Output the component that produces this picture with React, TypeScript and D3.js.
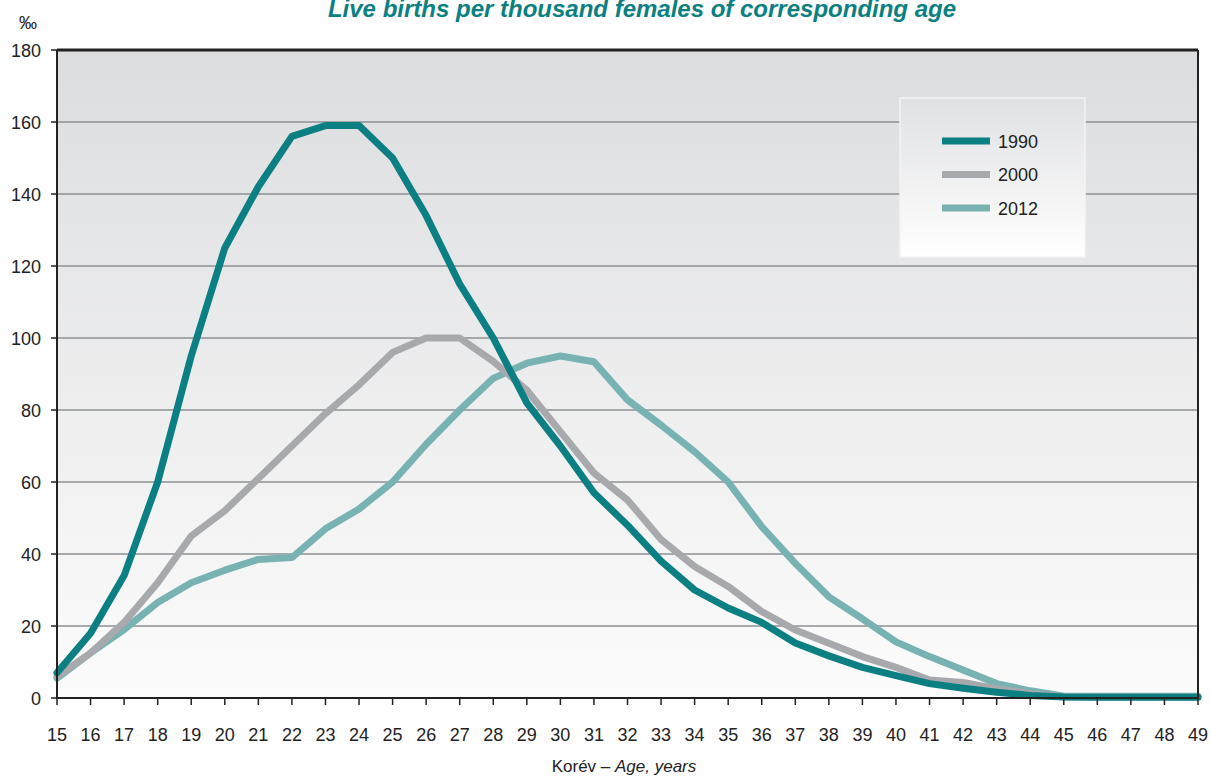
import React from "react";
import * as d3 from "d3";

// age groups (x axis)
const ages = d3.range(15, 50);
const yTicks = [0, 20, 40, 60, 80, 100, 120, 140, 160, 180];

// live births per thousand females
const births1990 = [7, 18, 34, 60, 95, 125, 142, 156, 159, 159, 150, 134, 115, 100, 82, 70, 57, 48, 38, 30, 25, 21, 15.3, 11.7, 8.5, 6.2, 4, 2.7, 1.6, 0.7, 0.3, 0.2, 0.2, 0.2, 0.2];
const births2000 = [6, 12.5, 21, 32, 45, 52, 61, 70, 79, 87, 96, 100, 100, 93.5, 85.5, 74, 62.5, 55, 44, 36.5, 31, 24, 18.9, 15.2, 11.5, 8.5, 5, 4.3, 2.6, 1.2, 0.3, 0.3, 0.3, 0.3, 0.3];
const births2012 = [5.5, 12.5, 19, 26.5, 32, 35.5, 38.5, 39, 47, 52.5, 60, 70.5, 80, 88.8, 93, 95, 93.4, 82.8, 75.8, 68.4, 60, 47.6, 37.4, 28.1, 22, 15.6, 11.5, 7.8, 4, 2, 0.5, 0.5, 0.5, 0.5, 0.5];

const seriesNames = ["1990", "2000", "2012"];
const seriesColors = ["#0b7f82", "#a8a9ad", "#78b2b2"];
const seriesData = [births1990, births2000, births2012];

const W = 1210, H = 776;
const left = 57, right = 1198, top = 50, bottom = 698;
const font = "'Liberation Sans Narrow', 'Arial Narrow', 'Liberation Sans', Arial, sans-serif";

export default function App() {
  const x = d3.scaleLinear().domain([15, 49]).range([left, right]);
  const y = d3.scaleLinear().domain([0, 180]).range([bottom, top]);

  const line = d3.line<number>()
    .x((_, i) => x(ages[i]))
    .y(d => y(d));

  return (
    <svg width={W} height={H} style={{ position: "absolute", left: 0, top: 0, background: "#fff" }}>
      <defs>
        <linearGradient id="bg" x1="0" y1="0" x2="0" y2="1">
          <stop offset="0%" stopColor="#dcdddf" />
          <stop offset="100%" stopColor="#fcfcfc" />
        </linearGradient>
        <linearGradient id="lg" x1="0" y1="0" x2="0" y2="1">
          <stop offset="0%" stopColor="#e0e1e3" />
          <stop offset="100%" stopColor="#ffffff" />
        </linearGradient>
      </defs>

      <text x={642} y={17} textAnchor="middle" fill="#0b7f82" fontFamily={font}
        fontWeight="bold" fontStyle="italic" fontSize={24}>
        Live births per thousand females of corresponding age
      </text>
      <text x={19} y={29} fontFamily={font} fontSize={18} fill="#222">‰</text>

      <rect x={left} y={top} width={right - left} height={bottom - top} fill="url(#bg)" />

      {yTicks.slice(1, -1).map(t => (
        <line key={t} x1={left} x2={right} y1={y(t)} y2={y(t)} stroke="#8e8f92" strokeWidth={1.5} />
      ))}

      {/* legend */}
      <rect x={900} y={98} width={185} height={159} fill="url(#lg)" stroke="#f4f4f4" strokeWidth={1.5} />
      {seriesNames.map((s, i) => (
        <g key={s}>
          <line x1={942} x2={990} y1={141 + i * 33.5} y2={141 + i * 33.5} stroke={seriesColors[i]} strokeWidth={7} />
          <text x={998} y={147.5 + i * 33.5} fontFamily={font} fontSize={18} fill="#222">{s}</text>
        </g>
      ))}

      {seriesData.slice().reverse().map((d, i) => {
        const k = seriesData.length - 1 - i;
        return (
          <path key={k} d={line(d) ?? ""} fill="none" stroke={seriesColors[k]} strokeWidth={7}
            strokeLinejoin="round" strokeLinecap="round" />
        );
      })}

      {/* frame and axes */}
      <line x1={left} x2={right} y1={top} y2={top} stroke="#222" strokeWidth={3} />
      <line x1={right} x2={right} y1={top} y2={bottom} stroke="#222" strokeWidth={2} />
      <line x1={left} x2={left} y1={top} y2={bottom} stroke="#222" strokeWidth={2} />
      <line x1={left} x2={right} y1={bottom} y2={bottom} stroke="#222" strokeWidth={2} />

      {yTicks.map(t => (
        <g key={t}>
          <line x1={left - 6} x2={left} y1={y(t)} y2={y(t)} stroke="#222" strokeWidth={1.5} />
          <text x={41} y={y(t) + 6.5} textAnchor="end" fontFamily={font} fontSize={18} fill="#222">{t}</text>
        </g>
      ))}
      {ages.map(a => (
        <g key={a}>
          <line x1={x(a)} x2={x(a)} y1={bottom} y2={bottom + 7} stroke="#222" strokeWidth={1.5} />
          <text x={x(a)} y={741} textAnchor="middle" fontFamily={font} fontSize={18} fill="#222">{a}</text>
        </g>
      ))}

      <text x={624} y={772} textAnchor="middle" fontFamily={font} fontSize={17} fill="#222">
        Korév – <tspan fontStyle="italic">Age, years</tspan>
      </text>
    </svg>
  );
}
